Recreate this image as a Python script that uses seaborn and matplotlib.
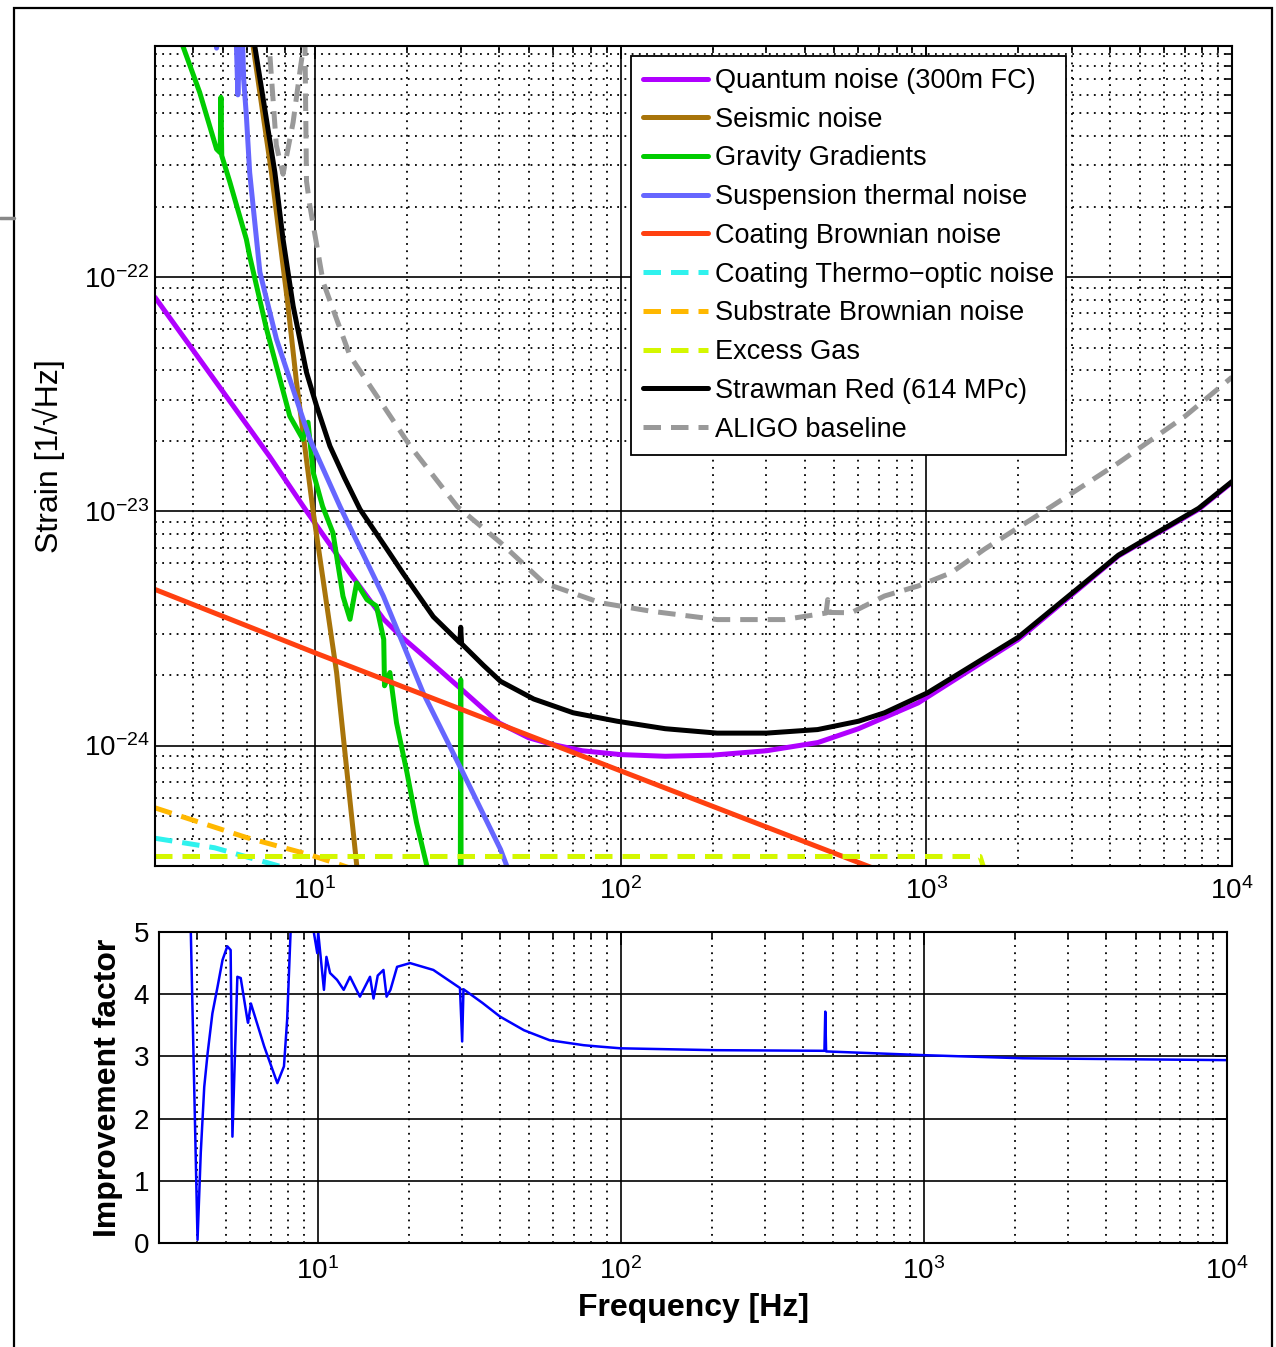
import seaborn as sns
import matplotlib
matplotlib.use("Agg")
import matplotlib.pyplot as plt
import matplotlib.ticker as mticker
from matplotlib.patches import Rectangle
from matplotlib.lines import Line2D

# ---- data (strain values in units of 1e-24) ----
quantum_f = [3, 7.1, 9.4, 13, 16.8, 19, 22, 30, 40, 50, 60, 75, 100, 140, 200, 300, 442, 600, 940,
             2000, 4250, 7780, 10000]
quantum_s = [82, 17.2, 10.0, 5.47, 3.46, 2.95, 2.5, 1.75, 1.25, 1.08, 1.01, 0.95, 0.915, 0.90, 0.91,
             0.95, 1.03, 1.18, 1.52, 2.84, 6.45, 10.2, 13.3]

seismic_f = [6.0, 6.28, 7.21, 8.17, 8.71, 9.87, 11.78, 13.7, 14.2]
seismic_s = [1550, 970, 280, 75.4, 35.5, 10.0, 2.05, 0.31, 0.22]

gravity_f = [3.6, 3.7, 4.2, 4.77, 4.90, 4.93, 4.96, 5.27, 5.97, 6.12, 6.95, 8.28, 9.14, 9.5, 9.87,
             10.6, 11.46, 12.36, 13.03, 13.7, 14.8, 15.9, 16.8, 16.9, 17.6, 18.5, 20.0, 21.5, 23.2,
             25, 29.9, 30.0, 30.1, 40]
gravity_s = [1150, 970, 615, 352, 340, 586, 330, 255, 145, 123, 60, 25.5, 20.3, 24, 14.7,
             10.5, 8.1, 4.34, 3.46, 4.95, 4.2, 3.94, 2.84, 1.8, 2.05, 1.25, 0.77, 0.47, 0.31,
             0.2, 0.2, 1.91, 0.2, 0.15]

susp_f = [4.6, 4.77, 4.95, 5.4, 5.54, 5.6, 5.75, 5.85, 5.97, 6.12, 6.61, 7.49, 8.49, 9.63, 12.08,
          16.75, 22.6, 30.6, 40.5, 45]
susp_s = [2000, 950, 2000, 2000, 970, 600, 1500, 700, 489, 280, 105, 54.3, 33.2, 20.3, 10.5,
          4.35, 1.68, 0.76, 0.36, 0.25]

coat_brown_f = [3, 10, 100, 1000]
coat_brown_s = [4.64, 2.49, 0.78, 0.245]

coat_to_f = [3, 4.7, 7.7, 9]
coat_to_s = [0.402, 0.366, 0.305, 0.29]

substrate_f = [3, 5.97, 9.6, 12.1, 14]
substrate_s = [0.542, 0.405, 0.342, 0.31, 0.29]

gas_f = [3, 30, 300, 1500, 1700]
gas_s = [0.336, 0.336, 0.336, 0.336, 0.2]

straw_f = [6.0, 6.36, 7.4, 7.87, 8.49, 9.39, 10.13, 11.2, 12.5, 14.05, 17.2, 19.5, 24.4, 29.8,
           30.0, 30.2, 35.6, 40.5, 52, 70, 97.5, 140, 207, 300, 441, 600, 730, 1010, 2000, 4250,
           7780, 10000]
straw_s = [1500, 970, 280, 145, 75.4, 39.2, 28.2, 19.0, 13.9, 10.2, 6.9, 5.4, 3.55, 2.75,
           3.2, 2.72, 2.2, 1.88, 1.58, 1.38, 1.27, 1.18, 1.13, 1.13, 1.17, 1.27, 1.38, 1.68, 2.9, 6.5,
           10.3, 13.4]

aligo_f = [6.8, 7.1, 7.48, 7.87, 8.49, 8.93, 9.15, 9.25, 9.39, 9.63, 10.65, 13.03, 16.76, 20.5,
           29.2, 40.5, 56.1, 86, 125, 207, 343, 470, 476, 482, 568, 730, 940, 1208, 1552, 2570,
           4250, 7030, 10000]
aligo_s = [1500, 950, 366, 275, 458, 750, 940, 1500, 257, 202, 95, 46.1, 28.2, 19.0,
           10.5, 7.35, 4.95, 4.07, 3.75, 3.45, 3.45, 3.68, 4.2, 3.7, 3.69, 4.35, 4.8, 5.47, 6.9, 10.5,
           16.1, 25.5, 37.4]

imp_f = [3.7, 3.82, 4.02, 4.12, 4.23, 4.34, 4.5, 4.68, 4.86, 5.04, 5.17, 5.24, 5.44, 5.58, 5.87,
         5.9, 6.03, 6.67, 7.37, 7.75, 7.94, 8.15, 8.4, 9.4, 9.72, 9.98, 10.05, 10.5, 10.7, 11.0,
         11.6, 12.2, 12.8, 13.8, 14.9, 15.3, 15.8, 16.5, 16.9, 17.4, 18.3, 20.2, 24.1, 29.5, 30.0,
         30.3, 35, 40.0, 48, 58.3, 75.5, 84, 100, 206, 470, 473, 476, 1000, 2120, 10000]
imp_v = [6.0, 5.0, 0.05, 1.45, 2.51, 3.05, 3.69, 4.12, 4.55, 4.77, 4.71, 1.71, 4.28, 4.26, 3.59,
         3.54, 3.85, 3.16, 2.57, 2.84, 3.59, 5.0, 7.0, 7.0, 5.0, 4.66, 5.0, 4.07, 4.6, 4.34,
         4.23, 4.07, 4.28, 3.96, 4.28, 3.93, 4.3, 4.39, 3.96, 4.07, 4.44, 4.5, 4.39, 4.10, 3.24,
         4.08, 3.86, 3.64, 3.42, 3.26, 3.18, 3.16, 3.13, 3.10, 3.09, 3.72, 3.08, 3.02, 2.97, 2.94]

series = [
    ("Quantum noise (300m FC)", quantum_f, quantum_s, "#b000ff", "-"),
    ("Seismic noise", seismic_f, seismic_s, "#a8740a", "-"),
    ("Gravity Gradients", gravity_f, gravity_s, "#00cc00", "-"),
    ("Suspension thermal noise", susp_f, susp_s, "#6666ff", "-"),
    ("Coating Brownian noise", coat_brown_f, coat_brown_s, "#ff4010", "-"),
    ("Coating Thermo\u2212optic noise", coat_to_f, coat_to_s, "#2ff2ee", (0, (3.5, 2))),
    ("Substrate Brownian noise", substrate_f, substrate_s, "#ffb800", (0, (3.5, 2))),
    ("Excess Gas", gas_f, gas_s, "#d4f700", (0, (3.5, 2))),
    ("Strawman Red (614 MPc)", straw_f, straw_s, "black", "-"),
    ("ALIGO baseline", aligo_f, aligo_s, "#999999", (0, (3.5, 2))),
]

sns.set_theme(style="white")
plt.rcParams['font.family'] = ['Liberation Sans', 'DejaVu Sans']
plt.rcParams['axes.edgecolor'] = 'black'
plt.rcParams['xtick.color'] = 'black'
plt.rcParams['ytick.color'] = 'black'
plt.rcParams['text.color'] = 'black'
plt.rcParams['axes.labelcolor'] = 'black'

W, H = 1276, 1347
fig = plt.figure(figsize=(W / 100, H / 100), dpi=100)
ax = fig.add_axes([155 / W, 1 - 866 / H, 1077 / W, 820 / H])
ax2 = fig.add_axes([159 / W, 1 - 1243 / H, 1068 / W, 311 / H])

ax.set_xscale('log')
ax.set_yscale('log')
for name, f, s, col, ls in series:
    sns.lineplot(x=f, y=[v * 1e-24 for v in s], ax=ax, color=col, linestyle=ls, lw=3.6,
                 label=name, estimator=None, sort=False)

ax.set_xlim(3, 1e4)
ax.set_ylim(3.06e-25, 9.7e-22)
ax.set_yticks([1e-24, 1e-23, 1e-22])

ax2.set_xscale('log')
sns.lineplot(x=imp_f, y=imp_v, ax=ax2, color='#0000ff', lw=1.8, estimator=None, sort=False)
ax2.set_xlim(3, 1e4)
ax2.set_ylim(0, 5)
ax2.set_yticks([0, 1, 2, 3, 4, 5])

dotted = (0, (1, 3))
for a in (ax, ax2):
    a.set_axisbelow(True)
    a.xaxis.set_minor_locator(mticker.LogLocator(base=10, subs=range(2, 10), numticks=20))
    a.xaxis.set_minor_formatter(mticker.NullFormatter())
    a.grid(which='major', color='black', lw=1.2, ls='-')
    a.grid(which='minor', axis='x', color='black', lw=1.3, ls=dotted)
    a.tick_params(which='both', direction='in', top=True, right=True, width=1.2,
                  labelsize=20, colors='black')
    a.tick_params(which='major', length=9)
    a.tick_params(which='minor', length=5)
    for sp in a.spines.values():
        sp.set_color('black')
        sp.set_linewidth(1.5)

ax.yaxis.set_minor_locator(mticker.LogLocator(base=10, subs=range(2, 10), numticks=20))
ax.yaxis.set_minor_formatter(mticker.NullFormatter())
ax.grid(which='minor', axis='y', color='black', lw=1.3, ls=dotted)
ax.tick_params(axis='x', pad=8)
ax.tick_params(axis='y', pad=4)
ax2.tick_params(axis='x', pad=10)
ax2.tick_params(axis='y', pad=7)

ax.set_ylabel('Strain [1/\u221aHz]', fontsize=23)
ax.yaxis.set_label_coords(-0.084, 0.5)
ax.set_xlabel('')
ax2.set_ylabel('Improvement factor', fontsize=23, fontweight='bold')
ax2.yaxis.set_label_coords(-0.034, 0.5)
ax2.set_xlabel('Frequency [Hz]', fontsize=23, fontweight='bold')
ax2.xaxis.set_label_coords(0.5, -0.16)

handles, labels = ax.get_legend_handles_labels()
leg = ax.legend(handles, labels, loc='upper right', bbox_to_anchor=(0.846, 0.988),
                fontsize=19.5, frameon=True, fancybox=False, framealpha=1, edgecolor='black',
                handlelength=2.4, handletextpad=0.25, labelspacing=0.47, borderpad=0.45,
                borderaxespad=0)
leg.get_frame().set_linewidth(1.3)

fig.patches.append(Rectangle((14 / W, -0.01), (1272 - 14) / W, 1.01 - 8 / H,
                             transform=fig.transFigure, fill=False, ec='black', lw=1.6))
fig.lines.append(Line2D([0, 14 / W], [1 - 218 / H, 1 - 218 / H], transform=fig.transFigure,
                        color='#888888', lw=2.5))

plt.savefig("out.png", dpi=100)
